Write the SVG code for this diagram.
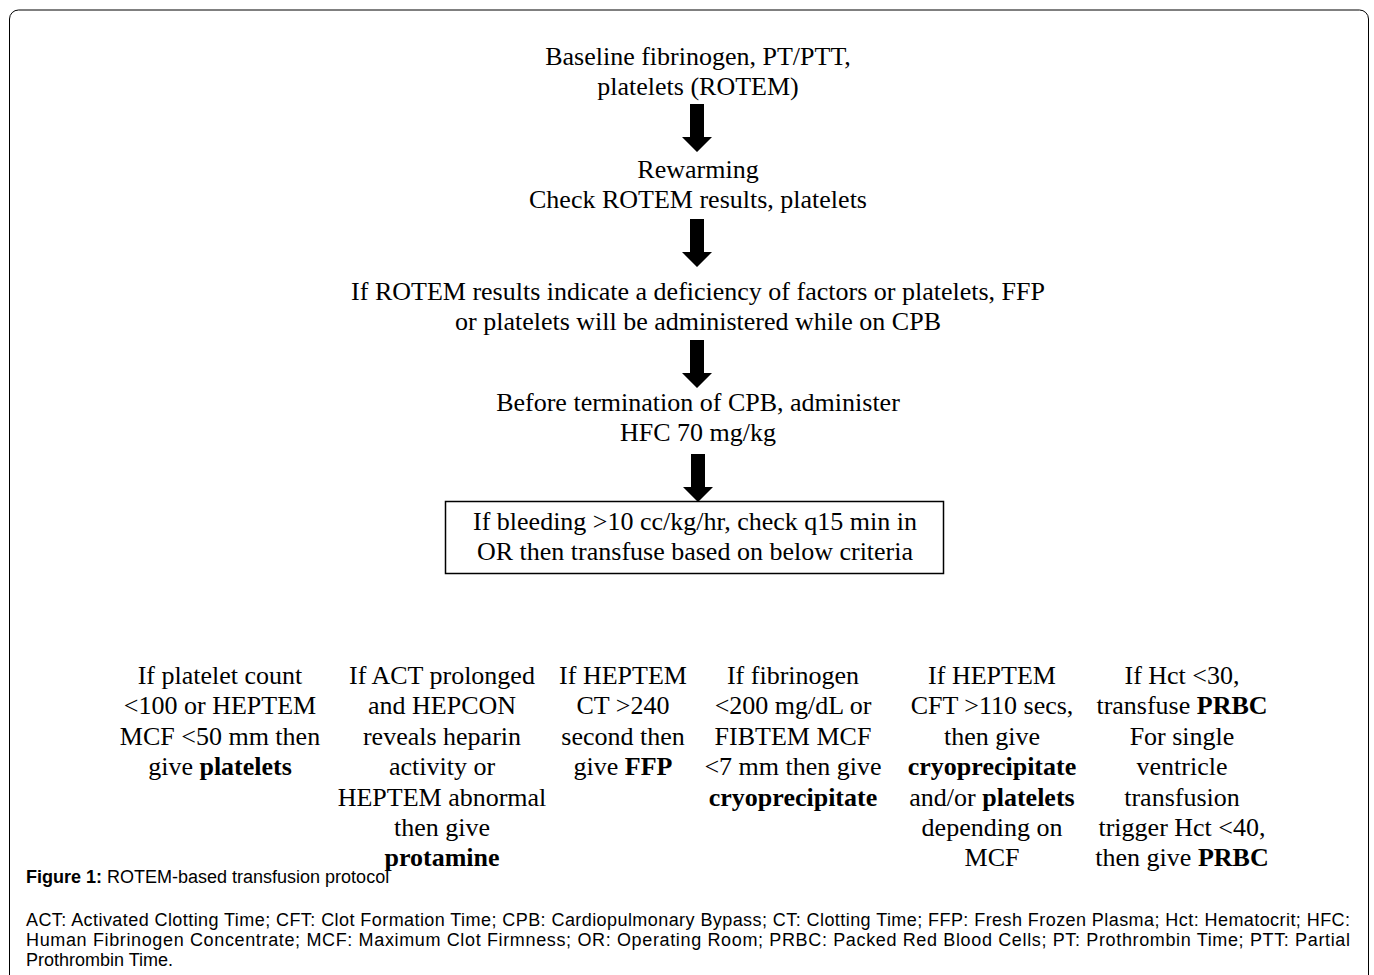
<svg xmlns="http://www.w3.org/2000/svg" width="1374" height="975" viewBox="0 0 1374 975">
<style>
.t{font-family:"Liberation Serif","Times New Roman",serif;font-size:26px;fill:#000;text-anchor:middle}
.b{font-weight:bold}
.c{font-family:"Liberation Sans",Arial,sans-serif;font-size:18px;fill:#000}
</style>
<defs>
<path id="arr" d="M-7,0 H7 V33 H15 L0,48 L-15,33 H-7 Z" fill="#000"/>
</defs>
<rect x="9.5" y="10" width="1359" height="1000" rx="9" fill="#fff" stroke="#000" stroke-width="1"/>
<g id="connectors">
<use href="#arr" x="697" y="104"/>
<use href="#arr" x="697" y="219"/>
<use href="#arr" x="697" y="340"/>
<use href="#arr" x="698" y="454"/>
</g>
<g id="n1"><text class="t" x="698" y="65">Baseline fibrinogen, PT/PTT,</text><text class="t" x="698" y="95">platelets (ROTEM)</text></g>
<g id="n2"><text class="t" x="698" y="178">Rewarming</text><text class="t" x="698" y="208">Check ROTEM results, platelets</text></g>
<g id="n3"><text class="t" x="698" y="300">If ROTEM results indicate a deficiency of factors or platelets, FFP</text><text class="t" x="698" y="330">or platelets will be administered while on CPB</text></g>
<g id="n4"><text class="t" x="698" y="411">Before termination of CPB, administer</text><text class="t" x="698" y="441">HFC 70 mg/kg</text></g>
<g id="n5"><rect x="445.5" y="501.5" width="498" height="72" fill="none" stroke="#000" stroke-width="1.5"/><text class="t" x="695" y="530">If bleeding &gt;10 cc/kg/hr, check q15 min in</text><text class="t" x="695" y="560">OR then transfuse based on below criteria</text></g>
<g id="c1"><text class="t" x="220" y="684">If platelet count</text><text class="t" x="220" y="714">&lt;100 or HEPTEM</text><text class="t" x="220" y="745">MCF &lt;50 mm then</text><text class="t" x="220" y="775">give <tspan class="b">platelets</tspan></text></g>
<g id="c2"><text class="t" x="442" y="684">If ACT prolonged</text><text class="t" x="442" y="714">and HEPCON</text><text class="t" x="442" y="745">reveals heparin</text><text class="t" x="442" y="775">activity or</text><text class="t" x="442" y="806">HEPTEM abnormal</text><text class="t" x="442" y="836">then give</text><text class="t b" x="442" y="866">protamine</text></g>
<g id="c3"><text class="t" x="623" y="684">If HEPTEM</text><text class="t" x="623" y="714">CT &gt;240</text><text class="t" x="623" y="745">second then</text><text class="t" x="623" y="775">give <tspan class="b">FFP</tspan></text></g>
<g id="c4"><text class="t" x="793" y="684">If fibrinogen</text><text class="t" x="793" y="714">&lt;200 mg/dL or</text><text class="t" x="793" y="745">FIBTEM MCF</text><text class="t" x="793" y="775">&lt;7 mm then give</text><text class="t b" x="793" y="806">cryoprecipitate</text></g>
<g id="c5"><text class="t" x="992" y="684">If HEPTEM</text><text class="t" x="992" y="714">CFT &gt;110 secs,</text><text class="t" x="992" y="745">then give</text><text class="t b" x="992" y="775">cryoprecipitate</text><text class="t" x="992" y="806">and/or <tspan class="b">platelets</tspan></text><text class="t" x="992" y="836">depending on</text><text class="t" x="992" y="866">MCF</text></g>
<g id="c6"><text class="t" x="1182" y="684">If Hct &lt;30,</text><text class="t" x="1182" y="714">transfuse <tspan class="b">PRBC</tspan></text><text class="t" x="1182" y="745">For single</text><text class="t" x="1182" y="775">ventricle</text><text class="t" x="1182" y="806">transfusion</text><text class="t" x="1182" y="836">trigger Hct &lt;40,</text><text class="t" x="1182" y="866">then give <tspan class="b">PRBC</tspan></text></g>
<g id="caption">
<text class="c" x="26" y="883"><tspan class="b">Figure 1:</tspan> ROTEM-based transfusion protocol</text>
<text class="c" x="26" y="926" textLength="1324" lengthAdjust="spacing">ACT: Activated Clotting Time; CFT: Clot Formation Time; CPB: Cardiopulmonary Bypass; CT: Clotting Time; FFP: Fresh Frozen Plasma; Hct: Hematocrit; HFC:</text>
<text class="c" x="26" y="946" textLength="1324" lengthAdjust="spacing">Human Fibrinogen Concentrate; MCF: Maximum Clot Firmness; OR: Operating Room; PRBC: Packed Red Blood Cells; PT: Prothrombin Time; PTT: Partial</text>
<text class="c" x="26" y="966">Prothrombin Time.</text>
</g>
</svg>
